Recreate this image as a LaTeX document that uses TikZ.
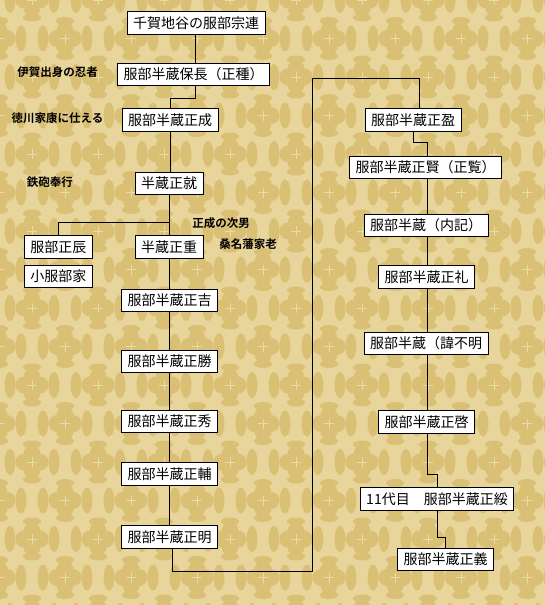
\documentclass[tikz,border=0pt]{standalone}
\usepackage{fontspec}
\newfontfamily\jp{Noto Sans CJK JP}[BoldFont={Noto Sans CJK JP Bold}]
\definecolor{bglight}{HTML}{E7D59C}
\definecolor{bgdark}{HTML}{DAC074}
\definecolor{bgline}{HTML}{EADBA8}
\begin{document}
\begin{tikzpicture}[x=1pt,y=-1pt,
 box/.style={draw=black,fill=white,line width=1pt,inner xsep=6pt,inner ysep=0pt,minimum height=22.5pt,font=\jp\fontsize{14}{14}\selectfont},
 note/.style={font=\jp\bfseries\fontsize{11.5}{12}\selectfont,inner sep=0pt},
 link/.style={draw=black,line width=1pt}]
\fill[bglight] (0,0) rectangle (545,605);
\begin{scope}
\clip (0,0) rectangle (545,605);
\foreach \i in {-1,...,9}{\foreach \j in {-1,...,8}{
 \foreach \dx/\dy in {32/0,65/38.5}{
  \fill[bgdark] (\dx+66*\i+8,\dy+77*\j) circle (8.5) (\dx+66*\i-8,\dy+77*\j) circle (8.5)
    (\dx+66*\i,\dy+77*\j+8) circle (8.5) (\dx+66*\i,\dy+77*\j-8) circle (8.5);
  \draw[bgline,line width=0.5pt] (\dx+66*\i-5,\dy+77*\j) -- (\dx+66*\i+5,\dy+77*\j)
    (\dx+66*\i,\dy+77*\j-5) -- (\dx+66*\i,\dy+77*\j+5);
 }
 \foreach \dx/\dy in {65/0,32/38.5}{
  \fill[bgdark] (\dx+66*\i-11,\dy+77*\j) ellipse (5.5 and 13) (\dx+66*\i+11,\dy+77*\j) ellipse (5.5 and 13);
  \fill[bgdark] (\dx+66*\i,\dy+77*\j-21) ellipse (9 and 4) (\dx+66*\i,\dy+77*\j+21) ellipse (9 and 4);
 }
}}
\end{scope}
\useasboundingbox (0,0) rectangle (545,605);

% left column
\node[box] (n1) at (196,23) {千賀地谷の服部宗連};
\node[box] (n2) at (193.5,74.5) {服部半蔵保長（正種）};
\node[box] (n3) at (170,120) {服部半蔵正成};
\node[box] (n4) at (169,183.5) {半蔵正就};
\node[box] (n5) at (58.5,247) {服部正辰};
\node[box] (n6) at (58.5,276.5) {小服部家};
\node[box] (n7) at (169,247) {半蔵正重};
\node[box] (n8) at (169.5,300.5) {服部半蔵正吉};
\node[box] (n9) at (169.5,361.5) {服部半蔵正勝};
\node[box] (n10) at (169.5,421.5) {服部半蔵正秀};
\node[box] (n11) at (169.5,474) {服部半蔵正輔};
\node[box] (n12) at (169.5,537) {服部半蔵正明};
% right column
\node[box] (n13) at (413,120) {服部半蔵正盈};
\node[box] (n14) at (425.5,167.5) {服部半蔵正賢（正覧）};
\node[box] (n15) at (426,225.5) {服部半蔵（内記）};
\node[box] (n16) at (426.5,277) {服部半蔵正礼};
\node[box] (n17) at (426,343.5) {服部半蔵（諱不明};
\node[box] (n18) at (426.5,422) {服部半蔵正啓};
\node[box] (n19) at (437,499) {11代目　服部半蔵正綏};
\node[box] (n20) at (445.5,559.5) {服部半蔵正義};

% notes
\node[note] (a1) at (57.5,72) {伊賀出身の忍者};
\node[note] (a2) at (57.5,118) {徳川家康に仕える};
\node[note] (a3) at (50,182) {鉄砲奉行};
\node[note] (a4) at (221,223) {正成の次男};
\node[note] (a5) at (248,244) {桑名藩家老};

% connectors
\coordinate (j1) at (170,222);
\coordinate (c1) at (312,571);
\coordinate (c2) at (312,78);
\draw[link] ([xshift=-1pt]n1.south) -- ([xshift=-1pt]n1.south |- n2.north);
\draw[link] ([xshift=1.5pt]n2.south) -- ++(0,12) -| (n3.north);
\draw[link] (n3.south) -- (n3.south |- n4.north);
\draw[link] (n4.south) -- (n4.south |- n7.north);
\draw[link] (j1) -| (n5.north);
\draw[link] (n7.south) -- (n7.south |- n8.north);
\draw[link] (n8.south) -- (n8.south |- n9.north);
\draw[link] (n9.south) -- (n9.south |- n10.north);
\draw[link] (n10.south) -- (n10.south |- n11.north);
\draw[link] (n11.south) -- (n11.south |- n12.north);
\draw[link] ([xshift=2.5pt]n12.south) |- (c1) -- (c2) -| ([xshift=6pt]n13.north);
\draw[link] (n13.south) -- ++(0,11) -| ([xshift=1.5pt]n14.north);
\draw[link] ([xshift=1.5pt]n14.south) -- ([xshift=1.5pt]n14.south |- n15.north);
\draw[link] ([xshift=1pt]n15.south) -- ([xshift=1pt]n15.south |- n16.north);
\draw[link] ([xshift=0.5pt]n16.south) -- ([xshift=0.5pt]n16.south |- n17.north);
\draw[link] ([xshift=1pt]n17.south) -- ([xshift=1pt]n17.south |- n18.north);
\draw[link] ([xshift=0.5pt]n18.south) -- ++(0,41) -| (n19.north);
\draw[link] (n19.south) -- ++(0,27) -| (n20.north);
\end{tikzpicture}
\end{document}
